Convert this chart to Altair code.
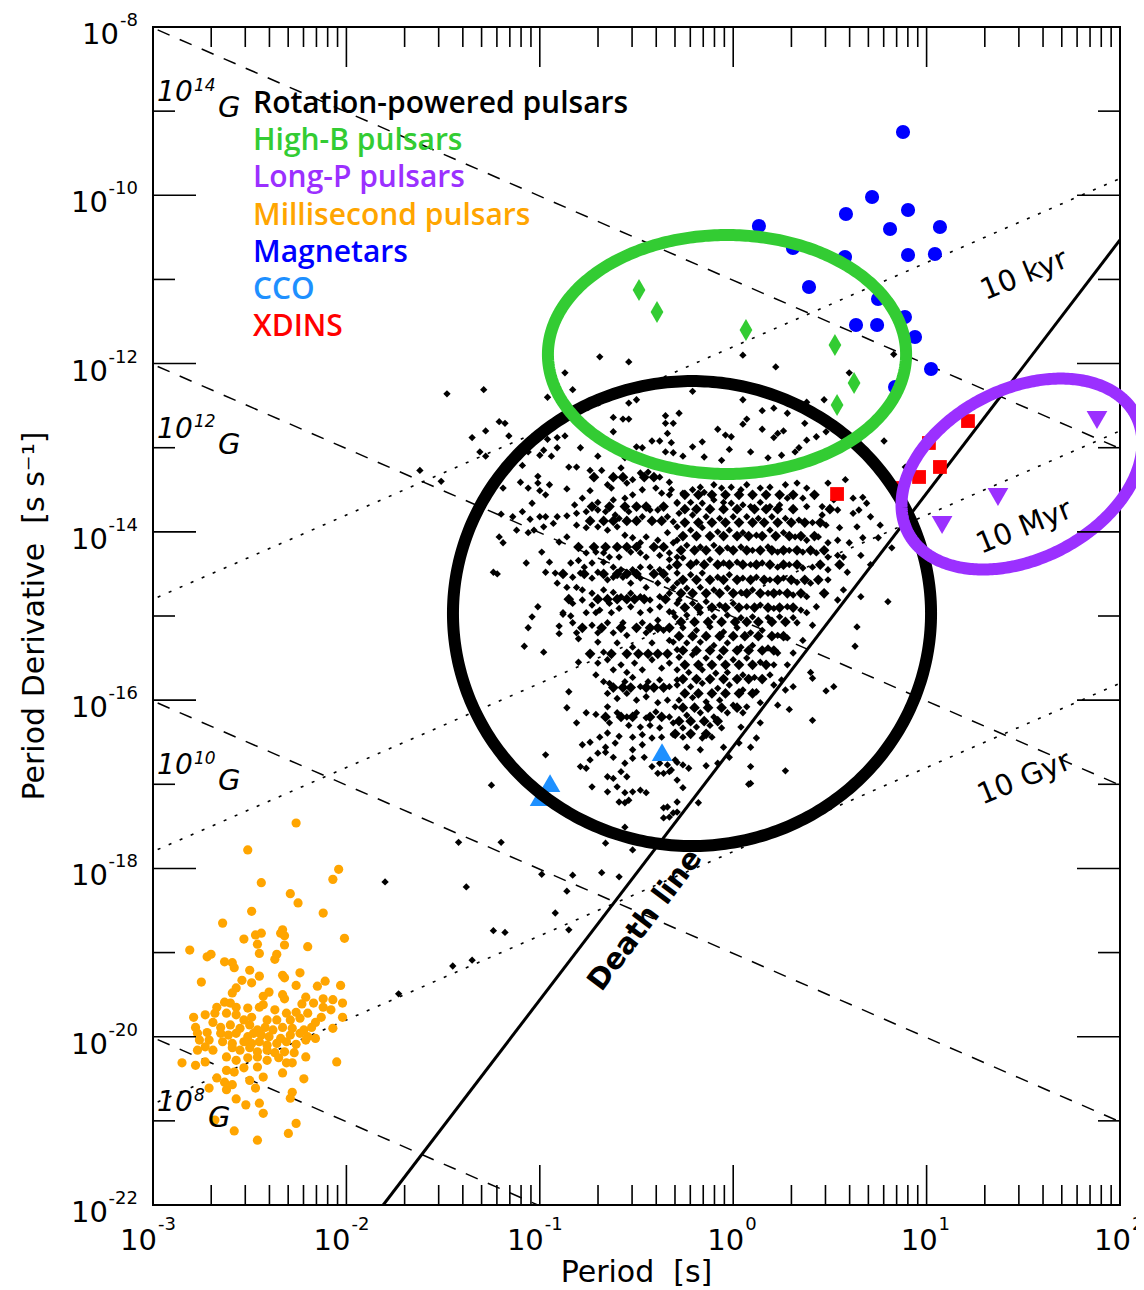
import altair as alt
import numpy as np
import pandas as pd

W, H = 967, 1178
FONT = "DejaVu Sans"

# ---------------- data: (log10 P [s], log10 Pdot) ----------------
rpp = [
    (-1.48,-12.36),(-1.29,-12.31),(-1.28,-12.80),(-1.35,-12.88),(-1.31,-13.05),(-1.28,-13.10),(-1.51,-13.40),
    (-1.21,-12.69),(-1.18,-12.71),(-1.16,-12.86),(-0.87,-12.11),(-0.96,-12.40),(-0.83,-12.31),(-1.62,-13.27),
    (-0.54,-12.47),(-0.50,-12.43),(-0.62,-12.64),(-0.57,-12.66),(-0.54,-12.66),(-0.35,-12.62),(-0.35,-12.71),
    (-0.31,-12.71),(-0.62,-12.81),(-0.34,-12.83),(-0.32,-12.94),(-0.42,-12.92),(-0.38,-12.92),(-0.50,-12.99),
    (-0.47,-13.00),(-0.35,-13.05),(-0.31,-13.06),(-0.96,-12.90),(-0.91,-12.88),(-0.87,-12.86),(-0.79,-13.00),
    (-0.91,-13.00),(-0.98,-13.03),(-1.00,-13.09),(-1.06,-13.05),(-1.09,-13.21),(-0.94,-13.10),(-0.70,-13.10),
    (-0.58,-13.24),(-0.85,-13.23),(-0.81,-13.23),(-0.74,-13.27),(-0.68,-13.27),(-0.56,-13.12),(-0.52,-13.38),
    (-0.48,-13.30),(-0.44,-13.29),(-0.38,-13.35),(-0.33,-13.41),(-0.65,-13.44),(-0.63,-13.48),(-0.55,-13.42),
    (-1.01,-13.34),(-1.01,-13.42),(-0.95,-13.44),(-1.10,-13.41),(-1.19,-13.48),(-1.06,-13.48),(-1.00,-13.51),
    (-0.97,-13.56),(-0.86,-13.49),(-0.78,-13.60),(-0.74,-13.51),(-0.70,-13.65),(-0.62,-13.62),(-0.56,-13.60),
    (-0.52,-13.56),(-0.47,-13.50),(-0.40,-13.48),(-0.37,-13.54),(-0.33,-13.56),(-0.29,-13.66),(-1.04,-13.66),
    (-1.09,-13.76),(-1.20,-13.79),(-1.14,-13.82),(-1.05,-13.85),(-1.00,-13.82),(-0.97,-13.82),(-0.91,-13.82),
    (-0.86,-13.81),(-0.82,-13.68),(-0.81,-13.78),(-0.76,-13.76),(-0.70,-13.74),(-0.66,-13.76),(-0.61,-13.80),
    (-0.59,-13.84),(-0.54,-13.76),(-0.47,-13.82),(-0.43,-13.74),(-0.39,-13.74),(-0.34,-13.82),(-0.31,-13.88),
    (-0.81,-13.92),(-0.76,-13.95),(-0.70,-13.94),(-0.65,-13.98),(-0.60,-13.94),(-0.56,-14.04),(-0.52,-14.07),
    (-0.48,-14.13),(-0.45,-14.06),(-0.39,-14.10),(-0.34,-14.01),(-0.29,-14.10),(-1.12,-13.98),(-1.06,-14.01),
    (-1.03,-13.98),(-0.98,-13.94),(-0.93,-13.90),(-1.21,-14.06),(-1.19,-14.13),(-0.90,-14.12),(-0.86,-14.06),
    (-0.99,-14.24),(-0.76,-14.25),(-0.71,-14.24),(-0.67,-14.25),(-0.64,-14.30),(-0.59,-14.30),(-0.53,-14.24),
    (-0.48,-14.25),(-0.45,-14.30),(-0.38,-14.28),(-0.33,-14.25),(-0.29,-14.30),(-0.95,-14.36),(-0.84,-14.37),
    (-0.80,-14.34),(-0.77,-14.42),(-0.73,-14.37),(-0.67,-14.36),(-0.62,-14.42),(-0.58,-14.45),(-0.52,-14.45),
    (-0.48,-14.42),(-0.43,-14.42),(-0.38,-14.45),(-0.33,-14.42),(-1.07,-14.37),(-1.24,-14.48),(-1.22,-14.50),
    (-0.97,-14.48),(-0.92,-14.49),(-0.83,-14.54),(-0.79,-14.49),(-0.73,-14.55),(-0.70,-14.48),(-0.65,-14.57),
    (-0.62,-14.54),(-0.57,-14.54),(-0.53,-14.61),(-0.48,-14.55),(-0.45,-14.66),(-0.39,-14.61),(-0.34,-14.57),
    (-0.29,-14.61),(-0.91,-14.61),(-0.86,-14.66),(-0.81,-14.66),(-0.78,-14.69),(-0.73,-14.73),(-0.67,-14.69),
    (-0.62,-14.72),(-0.58,-14.77),(-0.53,-14.73),(-0.48,-14.77),(-0.43,-14.81),(-0.38,-14.77),(-0.33,-14.73),
    (-1.01,-14.89),(-0.88,-14.96),(-0.83,-14.85),(-0.78,-14.81),(-0.73,-14.87),(-0.69,-14.93),(-0.64,-14.85),
    (-0.59,-14.91),(-0.53,-14.89),(-0.48,-14.96),(-0.43,-14.93),(-0.38,-14.89),(-0.33,-14.95),(-0.29,-14.85),
    (-0.21,-12.33),(-0.28,-12.59),(-0.21,-12.99),(-0.16,-12.93),(-0.08,-12.78),(-0.04,-12.85),(-0.01,-12.87),
    (-0.02,-13.02),(-0.15,-13.11),(-0.26,-13.10),(-0.06,-13.15),(0.05,-12.72),(0.07,-12.66),(0.09,-13.05),
    (0.15,-12.78),(0.15,-12.56),(0.21,-12.53),(0.23,-12.83),(0.26,-12.80),(0.21,-12.88),(0.18,-13.12),
    (0.25,-13.09),(0.32,-13.05),(0.34,-13.00),(0.37,-12.71),(0.38,-12.91),(0.43,-12.87),(0.48,-12.81),
    (0.28,-12.59),(0.05,-12.43),(0.38,-12.46),(0.47,-12.43),(0.78,-12.92),(0.89,-13.23),(0.60,-12.11),
    (-0.32,-13.50),(-0.26,-13.54),(-0.21,-13.50),(-0.17,-13.47),(-0.15,-13.53),(-0.10,-13.44),(-0.06,-13.48),
    (-0.01,-13.47),(0.04,-13.50),(0.07,-13.44),(0.14,-13.48),(0.19,-13.47),(0.27,-13.44),(0.33,-13.42),
    (0.38,-13.48),(0.49,-13.42),(0.58,-13.38),(0.52,-13.62),(0.62,-13.60),(0.67,-13.59),(0.69,-13.66),
    (0.65,-13.74),(0.62,-13.78),(0.54,-13.74),(0.46,-13.70),(0.46,-13.80),(0.38,-13.70),(0.36,-13.60),
    (0.28,-13.60),(0.24,-13.68),(0.19,-13.70),(0.14,-13.65),(0.09,-13.70),(0.05,-13.68),(-0.01,-13.66),
    (-0.05,-13.65),(-0.10,-13.62),(-0.16,-13.66),(-0.22,-13.65),(-0.29,-13.65),(-0.28,-13.78),(-0.21,-13.80),
    (-0.14,-13.82),(-0.07,-13.84),(0.00,-13.82),(0.07,-13.82),(0.13,-13.84),(0.20,-13.82),(0.27,-13.84),
    (0.34,-13.86),(0.41,-13.89),(0.48,-13.92),(0.55,-13.95),(0.64,-13.94),(0.76,-13.92),(0.71,-13.82),
    (-0.29,-13.94),(-0.22,-13.98),(-0.16,-13.95),(-0.08,-14.00),(-0.02,-13.98),(0.05,-14.01),(0.12,-14.04),
    (0.19,-13.98),(0.26,-14.01),(0.32,-14.06),(0.38,-14.10),(0.44,-14.06),(0.49,-14.13),(0.54,-14.10),
    (0.60,-14.13),(0.67,-14.07),(0.75,-14.07),(-0.31,-14.13),(-0.24,-14.16),(-0.17,-14.18),(-0.10,-14.16),
    (-0.03,-14.19),(0.04,-14.18),(0.10,-14.22),(0.18,-14.18),(0.23,-14.24),(0.29,-14.22),(0.36,-14.24),
    (0.43,-14.25),(0.49,-14.30),(0.54,-14.28),(0.57,-14.30),(0.66,-14.28),(-0.33,-14.33),(-0.26,-14.31),
    (-0.19,-14.36),(-0.12,-14.33),(-0.05,-14.37),(0.02,-14.36),(0.09,-14.39),(0.15,-14.37),(0.23,-14.42),
    (0.29,-14.39),(0.36,-14.43),(0.41,-14.42),(0.49,-14.45),(0.59,-14.48),(0.71,-14.39),(-0.29,-14.49),
    (-0.22,-14.51),(-0.16,-14.49),(-0.08,-14.54),(-0.02,-14.51),(0.05,-14.55),(0.12,-14.54),(0.19,-14.57),
    (0.26,-14.55),(0.33,-14.60),(0.40,-14.61),(0.49,-14.57),(0.57,-14.69),(-0.31,-14.66),(-0.24,-14.67),
    (-0.17,-14.66),(-0.10,-14.69),(-0.03,-14.67),(0.04,-14.72),(0.10,-14.69),(0.18,-14.73),(0.24,-14.72),
    (0.31,-14.75),(0.38,-14.77),(0.43,-14.89),(0.54,-14.81),(0.66,-14.77),(0.80,-14.83),(-0.28,-14.81),
    (-0.21,-14.85),(-0.14,-14.83),(-0.07,-14.87),(0.00,-14.85),(0.07,-14.89),(0.14,-14.87),(0.21,-14.91),
    (0.28,-14.89),(0.35,-14.93),(-0.31,-14.96),(-0.24,-14.99),(-0.17,-14.96),(-0.10,-15.01),(-0.03,-14.99),
    (0.04,-15.02),(0.10,-15.01),(0.18,-15.02),(0.24,-15.01),(0.31,-15.02),
    (-1.04,-15.01),(-1.06,-15.14),(-1.08,-15.36),(-0.98,-15.43),(-0.90,-15.12),(-0.90,-15.21),(-0.88,-14.98),
    (-0.84,-15.00),(-0.83,-15.08),(-0.81,-15.20),(-0.80,-15.27),(-0.76,-14.96),(-0.71,-14.96),(-0.73,-15.11),
    (-0.70,-15.20),(-0.70,-15.31),(-0.67,-15.43),(-0.65,-15.08),(-0.63,-14.96),(-0.62,-15.20),(-0.60,-15.32),
    (-0.57,-15.08),(-0.55,-15.23),(-0.52,-15.37),(-0.47,-15.08),(-0.45,-15.20),(-0.42,-15.32),(-0.39,-15.05),
    (-0.36,-15.17),(-0.33,-15.29),(-0.30,-15.01),(-0.29,-15.40),(-0.80,-15.55),(-0.70,-15.56),(-0.65,-15.52),
    (-0.62,-15.64),(-0.58,-15.58),(-0.55,-15.67),(-0.51,-15.56),(-0.47,-15.64),(-0.42,-15.52),(-0.37,-15.62),
    (-0.33,-15.56),(-0.29,-15.64),(-0.71,-15.70),(-0.67,-15.78),(-0.64,-15.80),(-0.56,-15.78),(-0.52,-15.73),
    (-0.48,-15.84),(-0.44,-15.78),(-0.38,-15.76),(-0.33,-15.84),(-0.29,-15.76),(-0.85,-15.90),(-0.65,-15.92),
    (-0.60,-15.98),(-0.55,-15.92),(-0.50,-16.00),(-0.45,-15.96),(-0.39,-16.03),(-0.34,-16.00),(-0.30,-16.08),
    (-0.86,-16.09),(-0.76,-16.15),(-0.71,-16.17),(-0.65,-16.08),(-0.60,-16.15),(-0.55,-16.20),(-0.50,-16.15),
    (-0.45,-16.21),(-0.40,-16.14),(-0.33,-16.20),(-0.81,-16.27),(-0.64,-16.27),(-0.54,-16.30),(-0.48,-16.32),
    (-0.43,-16.30),(-0.38,-16.33),(-0.31,-16.27),(-0.69,-16.44),(-0.65,-16.39),(-0.59,-16.43),(-0.52,-16.44),
    (-0.47,-16.41),(-0.42,-16.45),(-0.37,-16.44),(-0.31,-16.41),(-0.78,-16.53),(-0.74,-16.50),(-0.66,-16.56),
    (-0.61,-16.51),(-0.52,-16.59),(-0.47,-16.53),(-0.46,-16.68),(-0.74,-16.71),(-0.70,-16.63),(-0.66,-16.62),
    (-0.62,-16.68),(-0.56,-16.75),(-0.52,-16.69),(-0.79,-16.79),(-0.76,-16.81),(-0.42,-16.79),(-0.38,-16.75),
    (-0.34,-16.77),(-0.29,-16.74),(-0.65,-16.91),(-0.62,-16.93),(-0.58,-16.85),(-0.55,-16.91),(-0.39,-16.87),
    (-0.36,-16.87),(-0.33,-16.85),(-0.73,-17.03),(-0.65,-17.09),(-0.60,-17.03),(-0.56,-17.10),(-0.52,-17.09),
    (-0.48,-17.07),(-0.45,-17.10),(-0.59,-17.21),(-0.56,-17.22),(-0.54,-17.19),(-0.97,-16.65),(-1.25,-17.01),
    (-1.42,-17.69),(-1.20,-17.69),(-0.36,-17.28),(-0.34,-17.27),(-0.33,-17.39),(-0.36,-17.40),(-0.29,-17.21),
    (-0.29,-17.33),(-0.56,-17.51),(-0.52,-17.78),(-0.66,-17.70),
    (0.38,-14.96),(0.41,-15.11),(0.33,-15.08),(-0.26,-15.14),(-0.19,-15.17),(-0.12,-15.13),(-0.05,-15.19),
    (0.02,-15.14),(0.09,-15.20),(0.15,-15.17),(0.23,-15.23),(0.28,-15.26),(0.36,-15.29),(-0.31,-15.31),
    (-0.24,-15.32),(-0.17,-15.31),(-0.10,-15.35),(-0.03,-15.32),(0.04,-15.37),(0.10,-15.35),(0.18,-15.38),
    (0.23,-15.44),(0.31,-15.44),(-0.28,-15.49),(-0.21,-15.46),(-0.14,-15.50),(-0.07,-15.49),(0.00,-15.52),
    (0.07,-15.50),(0.14,-15.55),(0.21,-15.58),(0.28,-15.58),(-0.23,-15.67),(-0.16,-15.64),(-0.09,-15.68),
    (-0.03,-15.67),(0.05,-15.70),(0.11,-15.73),(0.19,-15.70),(0.25,-15.76),(-0.29,-15.82),(-0.22,-15.84),
    (-0.16,-15.80),(-0.08,-15.86),(-0.02,-15.82),(0.05,-15.88),(0.12,-15.90),(0.21,-15.82),(0.27,-15.88),
    (-0.28,-16.00),(-0.21,-15.97),(-0.14,-16.02),(-0.07,-16.00),(0.00,-16.06),(0.07,-16.08),(0.14,-16.03),
    (0.23,-16.06),(-0.24,-16.18),(-0.17,-16.15),(-0.10,-16.20),(-0.03,-16.15),(0.05,-16.15),(0.14,-16.27),
    (-0.26,-16.33),(-0.19,-16.32),(-0.12,-16.30),(-0.06,-16.33),(0.04,-16.32),(-0.26,-16.44),(-0.16,-16.45),
    (-0.11,-16.44),(0.12,-16.45),(-0.24,-16.56),(-0.17,-16.59),(-0.05,-16.56),(0.03,-16.51),(0.09,-16.56),
    (-0.30,-16.71),(-0.26,-16.77),(-0.23,-16.81),(-0.14,-16.78),(-0.08,-16.75),(-0.02,-16.68),(0.09,-16.79),
    (-0.29,-16.95),(-0.26,-17.04),(-0.32,-16.83),(-0.18,-17.22),(0.09,-16.99),(0.27,-16.84),(-0.31,-17.34),
    (0.64,-15.13),(0.63,-15.36),(0.40,-15.67),(0.41,-15.74),(0.31,-15.84),(0.48,-15.89),(0.52,-15.84),
    (0.29,-16.11),(0.41,-16.24),(0.08,-17.00),
    (-0.83,-18.08),(-0.86,-18.27),(-0.92,-18.53),(-0.85,-18.73),(-1.18,-18.76),(-0.59,-18.10),(-1.80,-18.16),
    (-1.38,-18.22),(-1.24,-18.74),(-1.35,-19.09),(-1.73,-19.49),(-0.99,-18.07),(-0.68,-18.05),(-1.45,-19.16),
    (-0.69,-11.92),(0.05,-11.90),(0.22,-12.04),(0.83,-11.89),(-0.54,-11.98),(0.82,-14.19),
]

# densest part of the pulsar cloud: rows of (log10 Pdot, [log10 P, ...]) read from the nearly solid black core
rpp_core_rows = [
    (-13.35, [-0.72, -0.62, -0.57, -0.46, -0.41]),
    (-13.56, [-0.25, -0.18, -0.11, -0.04, 0.03, 0.10, 0.17, 0.24, 0.31, 0.42]),
    (-13.70, [-0.73, -0.64, -0.56, -0.50, -0.45, -0.36]),
    (-13.73, [-0.25, -0.19, -0.12, -0.05, 0.02, 0.11, 0.17, 0.23, 0.31, 0.50]),
    (-13.87, [-0.74, -0.67, -0.62, -0.55, -0.50, -0.42, -0.37]),
    (-13.89, [-0.25, -0.18, -0.11, -0.04, 0.03, 0.10, 0.16, 0.23, 0.30, 0.37, 0.45]),
    (-14.05, [-0.26, -0.19, -0.12, -0.05, 0.02, 0.08, 0.15, 0.22, 0.29, 0.35, 0.42]),
    (-14.18, [-0.80, -0.72, -0.66, -0.60, -0.55, -0.50, -0.41, -0.36]),
    (-14.22, [-0.27, -0.20, -0.14, -0.07, 0.00, 0.07, 0.14, 0.20, 0.26, 0.33, 0.40, 0.47]),
    (-14.39, [-0.29, -0.22, -0.15, -0.08, -0.02, 0.05, 0.12, 0.19, 0.26, 0.33, 0.45, 0.55]),
    (-14.50, [-0.88, -0.77, -0.67, -0.60, -0.55, -0.50, -0.41, -0.36]),
    (-14.57, [-0.26, -0.19, -0.12, -0.05, 0.02, 0.09, 0.16, 0.23, 0.30, 0.37, 0.44]),
    (-14.73, [-0.27, -0.21, -0.14, -0.07, 0.00, 0.07, 0.14, 0.21, 0.28, 0.35, 0.47]),
    (-14.80, [-0.85, -0.70, -0.65, -0.60, -0.55, -0.51, -0.46, -0.35]),
    (-14.90, [-0.25, -0.18, -0.11, -0.04, 0.03, 0.11, 0.18, 0.24, 0.31]),
    (-15.07, [-0.27, -0.20, -0.13, -0.06, 0.01, 0.07, 0.13, 0.20, 0.27]),
    (-15.14, [-0.78, -0.68, -0.58, -0.50, -0.43, -0.39, -0.33]),
    (-15.24, [-0.28, -0.21, -0.14, -0.07, 0.00, 0.06, 0.13, 0.20, 0.26]),
    (-15.41, [-0.26, -0.19, -0.12, -0.05, 0.02, 0.08, 0.15, 0.21]),
    (-15.45, [-0.74, -0.63, -0.55, -0.49, -0.44, -0.39, -0.34]),
    (-15.58, [-0.25, -0.18, -0.11, -0.04, 0.03, 0.10, 0.17]),
    (-15.75, [-0.26, -0.19, -0.12, -0.05, 0.02, 0.08, 0.15]),
    (-15.85, [-0.62, -0.57, -0.53, -0.45, -0.41, -0.36]),
    (-15.92, [-0.25, -0.18, -0.11, -0.04, 0.03, 0.10]),
    (-16.09, [-0.26, -0.20, -0.13, -0.06, 0.02]),
    (-16.20, [-0.66, -0.58, -0.52, -0.43, -0.37]),
    (-16.25, [-0.28, -0.22, -0.15, -0.08]),
    (-16.40, [-0.30, -0.22, -0.14]),
]

msp = [
    (-2.26,-17.46),(-2.51,-17.78),(-2.04,-18.01),(-2.07,-18.13),(-2.44,-18.17),(-2.29,-18.30),(-2.25,-18.41),
    (-2.49,-18.51),(-2.12,-18.53),(-2.64,-18.65),(-2.53,-18.84),(-2.47,-18.79),(-2.44,-18.77),(-2.46,-18.90),
    (-2.34,-18.77),(-2.33,-18.73),(-2.32,-18.80),(-2.32,-18.91),(-2.20,-18.93),(-2.01,-18.83),(-2.81,-18.97),
    (-2.72,-19.05),(-2.70,-19.02),(-2.63,-19.11),(-2.59,-19.12),(-2.58,-19.18),(-2.45,-19.01),(-2.36,-19.02),
    (-2.37,-19.08),(-2.50,-19.21),(-2.45,-19.28),(-2.33,-19.27),(-2.32,-19.30),(-2.24,-19.24),(-2.75,-19.35),
    (-2.54,-19.33),(-2.49,-19.36),(-2.26,-19.39),(-2.15,-19.40),(-2.11,-19.34),(-2.03,-19.39),(-2.57,-19.42),
    (-2.59,-19.48),(-2.40,-19.47),(-2.43,-19.52),(-2.33,-19.50),(-2.32,-19.55),(-2.21,-19.53),(-2.12,-19.55),
    (-2.07,-19.56),(-2.02,-19.60),(-2.67,-19.65),(-2.63,-19.59),(-2.60,-19.60),(-2.57,-19.65),(-2.51,-19.66),
    (-2.45,-19.65),(-2.43,-19.62),(-2.37,-19.68),(-2.31,-19.72),(-2.26,-19.71),(-2.23,-19.61),(-2.17,-19.60),
    (-2.12,-19.65),(-2.08,-19.68),(-2.79,-19.77),(-2.73,-19.74),(-2.68,-19.72),(-2.62,-19.72),(-2.57,-19.74),
    (-2.53,-19.80),(-2.49,-19.77),(-2.41,-19.80),(-2.36,-19.80),(-2.29,-19.80),(-2.24,-19.78),(-2.20,-19.72),
    (-2.16,-19.83),(-2.13,-19.77),(-2.02,-19.77),(-2.78,-19.89),(-2.69,-19.83),(-2.65,-19.89),(-2.60,-19.86),
    (-2.55,-19.90),(-2.50,-19.86),(-2.46,-19.92),(-2.42,-19.89),(-2.38,-19.92),(-2.33,-19.89),(-2.28,-19.90),
    (-2.22,-19.92),(-2.18,-19.89),(-2.07,-19.90),(-2.77,-19.96),(-2.72,-19.95),(-2.65,-19.96),(-2.61,-19.98),
    (-2.57,-19.96),(-2.51,-20.00),(-2.48,-19.96),(-2.44,-19.98),(-2.40,-20.00),(-2.34,-20.02),(-2.29,-19.98),
    (-2.24,-19.96),(-2.20,-20.00),(-2.76,-20.04),(-2.71,-20.04),(-2.64,-20.06),(-2.59,-20.08),(-2.53,-20.06),
    (-2.49,-20.08),(-2.45,-20.06),(-2.41,-20.10),(-2.36,-20.08),(-2.31,-20.06),(-2.26,-20.09),(-2.21,-20.04),
    (-2.16,-20.02),(-2.77,-20.16),(-2.73,-20.12),(-2.69,-20.16),(-2.59,-20.13),(-2.55,-20.16),(-2.50,-20.13),
    (-2.46,-20.18),(-2.41,-20.16),(-2.37,-20.19),(-2.32,-20.18),(-2.27,-20.19),(-2.85,-20.31),(-2.78,-20.34),
    (-2.73,-20.30),(-2.62,-20.24),(-2.57,-20.28),(-2.51,-20.25),(-2.46,-20.24),(-2.41,-20.28),(-2.35,-20.25),
    (-2.31,-20.31),(-2.28,-20.31),(-2.21,-20.24),(-2.05,-20.30),(-2.62,-20.40),(-2.58,-20.42),(-2.53,-20.37),
    (-2.46,-20.36),(-2.43,-20.48),(-2.33,-20.43),(-2.67,-20.49),(-2.63,-20.54),(-2.50,-20.52),(-2.22,-20.50),
    (-2.71,-20.61),(-2.62,-20.63),(-2.59,-20.57),(-2.47,-20.61),(-2.28,-20.66),(-2.29,-20.73),(-2.57,-20.74),
    (-2.52,-20.81),(-2.45,-20.79),(-2.43,-20.91),(-2.68,-20.99),(-2.26,-21.03),(-2.58,-21.12),(-2.30,-21.15),
    (-2.46,-21.23),
]

magnetars = [
    (0.878,-9.248),(0.718,-10.020),(0.583,-10.222),(0.904,-10.175),(0.811,-10.401),(1.069,-10.377),
    (0.133,-10.365),(0.904,-10.710),(1.043,-10.698),(0.578,-10.734),(0.309,-10.627),(0.392,-11.090),
    (0.635,-11.542),(0.744,-11.542),(0.888,-11.447),(0.940,-11.684),(1.023,-12.065),(0.749,-11.233),
    (0.837,-12.279),
]
high_b = [(-0.487,-11.126),(-0.394,-11.387),(0.066,-11.601),(0.526,-11.779),(0.625,-12.231),(0.537,-12.493)]
xdins = [(0.537,-13.550),(1.012,-12.944),(1.214,-12.683),(1.069,-13.229),(0.961,-13.348),(0.862,-13.479)]
long_p = [(1.881,-12.671),(1.369,-13.586),(1.080,-13.919)]
cco = [(-0.368,-16.617),(-0.947,-16.985),(-0.999,-17.152)]

# reference lines
B_fields = [1e8, 1e10, 1e12, 1e14]           # G, Pdot = (B/3.2e19)^2 / P
ages_yr = [1e4, 1e7, 1e10]                   # yr, Pdot = P / (2 tau)
death_P = [0.0155, 100.0]
death_Pdot = [1e-22, 2.95e-11]

# hand-drawn ellipses: centre (logP, logPdot) and axis vectors in decades
rings = {
    "black": (-0.213, -14.971, 1.236, 0.0, 0.0, 2.763, "#000000"),
    "green": (-0.032, -11.892, 0.926, 0.0, 0.0, 1.420, "#33cc33"),
    "purple": (1.493, -13.313, 0.590, -0.1995, 0.691, 0.900, "#9b30ff"),
}

legend_items = [
    ("Rotation-powered pulsars", "#000000"),
    ("High-B pulsars", "#33cc33"),
    ("Long-P pulsars", "#9b30ff"),
    ("Millisecond pulsars", "#ffa500"),
    ("Magnetars", "#0000ff"),
    ("CCO", "#1e90ff"),
    ("XDINS", "#ff0000"),
]

x_ticks = [1e-3, 1e-2, 1e-1, 1e0, 1e1, 1e2]
x_exp = ["-3", "-2", "-1", "0", "1", "2"]
y_major = [1e-8, 1e-10, 1e-12, 1e-14, 1e-16, 1e-18, 1e-20, 1e-22]
y_exp = ["-8", "-10", "-12", "-14", "-16", "-18", "-20", "-22"]
y_minor = [1e-9, 1e-11, 1e-13, 1e-15, 1e-17, 1e-19, 1e-21]
x_minor = [k * 10.0 ** e for e in range(-3, 2) for k in range(2, 10)]

B_exp = ["14", "12", "10", "8"]
B_logPdot = [-8.879, -12.879, -16.879, -20.879]
age_labels = ["10 kyr", "10 Myr", "10 Gyr"]
age_logPdot = [-10.947, -13.942, -16.926]

# ---------------- scales / helpers ----------------
xs = alt.Scale(type="log", domain=[1e-3, 1e2], nice=False)
ys = alt.Scale(type="log", domain=[1e-22, 1e-8], nice=False)


def X(f="P"):
    return alt.X(f"{f}:Q", scale=xs, axis=None)


def Y(f="Pdot"):
    return alt.Y(f"{f}:Q", scale=ys, axis=None)


def pts(lst):
    return pd.DataFrame({"P": [10 ** a for a, b in lst], "Pdot": [10 ** b for a, b in lst]})


core_pts = [(p, d) for d, ps in rpp_core_rows for p in ps]

layers = []

# B-field lines (dashed)
rows = []
for B in B_fields:
    for P in [1e-4, 1e3]:
        rows.append({"P": P, "Pdot": (B / 3.2e19) ** 2 / P, "id": f"B{B:g}"})
layers.append(alt.Chart(pd.DataFrame(rows)).mark_line(color="black", strokeWidth=1.5, strokeDash=[13, 11], clip=True)
              .encode(x=X(), y=Y(), detail="id:N"))
# age lines (dotted)
rows = []
for tau in ages_yr:
    for P in [1e-4, 1e3]:
        rows.append({"P": P, "Pdot": P / (2 * tau * 3.156e7), "id": f"t{tau:g}"})
layers.append(alt.Chart(pd.DataFrame(rows)).mark_line(color="black", strokeWidth=1.6, strokeDash=[3, 9], clip=True)
              .encode(x=X(), y=Y(), detail="id:N"))
# death line
layers.append(alt.Chart(pd.DataFrame({"P": death_P, "Pdot": death_Pdot})).mark_line(color="black", strokeWidth=3, clip=True)
              .encode(x=X(), y=Y()))

# populations
layers.append(alt.Chart(pts(core_pts)).mark_point(shape="diamond", filled=True, size=115, color="black", opacity=1,
                                                   strokeWidth=0)
              .encode(x=X(), y=Y()))
layers.append(alt.Chart(pts(rpp)).mark_point(shape="diamond", filled=True, size=54, color="black", opacity=1,
                                             strokeWidth=0)
              .encode(x=X(), y=Y()))
layers.append(alt.Chart(pts(msp)).mark_point(shape="circle", filled=True, size=85, color="#ffa500", opacity=1, strokeWidth=0)
              .encode(x=X(), y=Y()))
layers.append(alt.Chart(pts(magnetars)).mark_point(shape="circle", filled=True, size=200, color="#0000ff", opacity=1, strokeWidth=0)
              .encode(x=X(), y=Y()))
layers.append(alt.Chart(pts(cco)).mark_point(shape="triangle-up", filled=True, size=420, color="#1e90ff", opacity=1, strokeWidth=0)
              .encode(x=X(), y=Y()))
layers.append(alt.Chart(pts(xdins)).mark_point(shape="square", filled=True, size=190, color="#ff0000", opacity=1, strokeWidth=0)
              .encode(x=X(), y=Y()))
layers.append(alt.Chart(pts(long_p)).mark_point(shape="triangle-down", filled=True, size=430, color="#9b30ff", opacity=1, strokeWidth=0)
              .encode(x=X(), y=Y()))
layers.append(alt.Chart(pts(high_b)).mark_point(shape="M0,-1L0.58,0L0,1L-0.58,0Z", filled=True, size=484, color="#33cc33",
                                                 opacity=1, strokeWidth=0)
              .encode(x=X(), y=Y()))

# rings
t = np.linspace(0, 2 * np.pi, 361)
for name in ["black", "green", "purple"]:
    cx, cy, ax, bx, ay, by, col = rings[name]
    lp = cx + ax * np.cos(t) + bx * np.sin(t)
    ld = cy + ay * np.cos(t) + by * np.sin(t)
    df = pd.DataFrame({"P": 10 ** lp, "Pdot": 10 ** ld, "i": np.arange(len(t))})
    layers.append(alt.Chart(df).mark_line(color=col, strokeWidth=12, strokeJoin="round", strokeCap="round", clip=False)
                  .encode(x=X(), y=Y(), order="i:Q"))

# inward ticks
tk = dict(color="black", strokeWidth=1.6)
dxM = pd.DataFrame({"P": x_ticks})
dxm = pd.DataFrame({"P": x_minor})
dyM = pd.DataFrame({"Pdot": y_major})
dym = pd.DataFrame({"Pdot": y_minor})
layers += [
    alt.Chart(dxM).mark_rule(**tk).encode(x=X(), y=alt.value(H), y2=alt.value(H - 40)),
    alt.Chart(dxm).mark_rule(**tk).encode(x=X(), y=alt.value(H), y2=alt.value(H - 20)),
    alt.Chart(dxM).mark_rule(**tk).encode(x=X(), y=alt.value(0), y2=alt.value(40)),
    alt.Chart(dxm).mark_rule(**tk).encode(x=X(), y=alt.value(0), y2=alt.value(20)),
    alt.Chart(dyM).mark_rule(**tk).encode(y=Y(), x=alt.value(0), x2=alt.value(43)),
    alt.Chart(dym).mark_rule(**tk).encode(y=Y(), x=alt.value(0), x2=alt.value(22)),
    alt.Chart(dyM).mark_rule(**tk).encode(y=Y(), x=alt.value(W), x2=alt.value(W - 43)),
    alt.Chart(dym).mark_rule(**tk).encode(y=Y(), x=alt.value(W), x2=alt.value(W - 22)),
]

# tick labels: base "10" plus raised exponent
xl = pd.DataFrame({"P": x_ticks, "e": x_exp, "b": ["10"] * 6})
for sel, shift in [(xl.e.str.len() == 2, 4), (xl.e.str.len() == 1, 11)]:
    d = xl[sel]
    layers.append(alt.Chart(d).mark_text(font=FONT, fontSize=29, baseline="alphabetic", align="right", dx=shift,
                                         color="black")
                  .encode(x=X(), y=alt.value(H + 45), text="b:N"))
    layers.append(alt.Chart(d).mark_text(font=FONT, fontSize=18, baseline="alphabetic", align="left", dx=shift + 1,
                                         color="black")
                  .encode(x=X(), y=alt.value(H + 25), text="e:N"))
yl = pd.DataFrame({"Pdot": y_major, "e": y_exp, "b": ["10"] * 8})
layers.append(alt.Chart(yl).mark_text(font=FONT, fontSize=18, baseline="alphabetic", align="right", dy=-1, color="black")
              .encode(y=Y(), x=alt.value(-15), text="e:N"))
for sel, xoff in [(yl.e.str.len() == 2, -34), (yl.e.str.len() == 3, -45)]:
    layers.append(alt.Chart(yl[sel]).mark_text(font=FONT, fontSize=29, baseline="alphabetic", align="right", dy=17,
                                               color="black")
                  .encode(y=Y(), x=alt.value(xoff), text="b:N"))

# axis titles
layers.append(alt.Chart(pd.DataFrame({"t": ["Period\u00a0\u00a0[s]"]}))
              .mark_text(font=FONT, fontSize=30, baseline="alphabetic", align="center", color="black")
              .encode(x=alt.value(W / 2), y=alt.value(H + 77), text="t:N"))
layers.append(alt.Chart(pd.DataFrame({"t": ["Period Derivative\u00a0\u00a0[s s\u207b\u00b9]"]}))
              .mark_text(font=FONT, fontSize=30, baseline="middle", align="center", angle=270, color="black")
              .encode(x=alt.value(-118), y=alt.value(H / 2), text="t:N"))

# legend text
for k, (txt, col) in enumerate(legend_items):
    layers.append(alt.Chart(pd.DataFrame({"t": [txt]}))
                  .mark_text(font="Open Sans", fontWeight=600, fontSize=30, align="left", baseline="alphabetic", color=col)
                  .encode(x=alt.value(100), y=alt.value(86 + 37.2 * k), text="t:N"))

# B-field labels
layers.append(alt.Chart(pd.DataFrame({"P": [10 ** -2.979] * 4, "Pdot": [10 ** v for v in B_logPdot], "t": ["10"] * 4}))
              .mark_text(font="DejaVu Sans", fontStyle="italic", fontSize=28, align="left", baseline="alphabetic", color="black")
              .encode(x=X(), y=Y(), text="t:N"))
layers.append(alt.Chart(pd.DataFrame({"P": [10 ** -2.788] * 4, "Pdot": [10 ** (v + 0.12) for v in B_logPdot], "t": B_exp}))
              .mark_text(font="DejaVu Sans", fontStyle="italic", fontSize=17, align="left", baseline="alphabetic", color="black")
              .encode(x=X(), y=Y(), text="t:N"))
layers.append(alt.Chart(pd.DataFrame({"P": [10 ** -2.664] * 3 + [10 ** -2.716],
                                      "Pdot": [10 ** (v - 0.19) for v in B_logPdot], "t": ["G"] * 4}))
              .mark_text(font="DejaVu Sans", fontStyle="italic", fontSize=29, align="left", baseline="alphabetic", color="black")
              .encode(x=X(), y=Y(), text="t:N"))

# age labels
layers.append(alt.Chart(pd.DataFrame({"P": [10 ** 1.504] * 3, "Pdot": [10 ** v for v in age_logPdot], "t": age_labels}))
              .mark_text(font=FONT, fontSize=29, align="center", baseline="middle", angle=338, color="black")
              .encode(x=X(), y=Y(), text="t:N"))
# death line label
layers.append(alt.Chart(pd.DataFrame({"P": [10 ** -0.456], "Pdot": [10 ** -18.613], "t": ["Death line"]}))
              .mark_text(font="DejaVu Sans", fontWeight="bold", fontSize=29, align="center", baseline="middle", angle=307,
                         color="black")
              .encode(x=X(), y=Y(), text="t:N"))

chart = (
    alt.layer(*layers)
    .properties(width=W, height=H, autosize=alt.AutoSizeParams(type="none"),
                padding={"left": 145, "top": 19, "right": 16, "bottom": 95}, background="white")
    .configure_view(stroke="black", strokeWidth=2)
)

chart.save("out.html", embed_options={"renderer": "svg", "actions": False})
